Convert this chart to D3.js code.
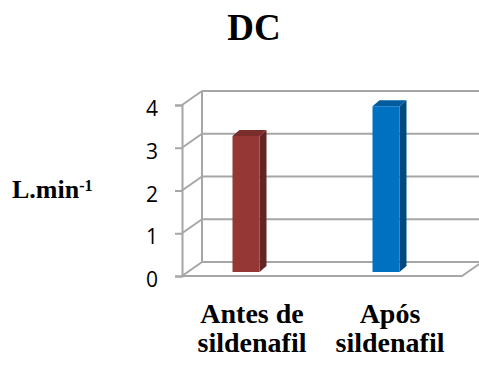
<!DOCTYPE html>
<html>
<head>
<meta charset="utf-8">
<script src="https://cdn.jsdelivr.net/npm/d3@7"></script>
<style>
  html, body { margin: 0; padding: 0; background: #fff; }
  svg { display: block; }
  .serif { font-family: "Liberation Serif", "Times New Roman", serif; font-weight: bold; }
  .tick text { font-family: "Open Sans", "DejaVu Sans", sans-serif; }
</style>
</head>
<body>
<svg id="chart" width="479" height="365"></svg>
<script>
// Chart data
const categories = [["Antes de", "sildenafil"], ["Após", "sildenafil"]];
const values = [3.2, 3.9];
const tickValues = [0, 1, 2, 3, 4];
const frontColors = ["#953735", "#0070c0"];
const sideColors = ["#632523", "#004a7f"];
const topColors = ["#7b2d2b", "#005c9f"];

const svg = d3.select("#chart");
const W = 479;

// 3D box geometry: front plane and back wall offset
const depthX = 20, depthY = -14;
const x = d3.scaleBand().domain(d3.range(categories.length)).range([182, 462]);
const yFront = d3.scaleLinear().domain([0, 4]).range([276, 105]);
const yBar = d3.scaleLinear().domain([0, 4]).range([272, 102]);

const grid = "#a6a6a6";
const g = svg.append("g");

// Back wall gridlines and diagonal connectors
tickValues.forEach(t => {
  const yf = yFront(t), yb = yf + depthY;
  g.append("line").attr("x1", 182 + depthX).attr("x2", W).attr("y1", yb).attr("y2", yb)
    .attr("stroke", grid).attr("stroke-width", 2);
  g.append("line").attr("x1", 182).attr("y1", yf).attr("x2", 182 + depthX).attr("y2", yb)
    .attr("stroke", grid).attr("stroke-width", 2);
});
// Back wall left edge
g.append("line").attr("x1", 182 + depthX).attr("x2", 182 + depthX)
  .attr("y1", yFront(0) + depthY).attr("y2", yFront(4) + depthY)
  .attr("stroke", grid).attr("stroke-width", 2);

// Floor front edge and right edge
g.append("path")
  .attr("d", `M182,${yFront(0)} L462,${yFront(0)} L${462 + depthX},${yFront(0) + depthY}`)
  .attr("fill", "none").attr("stroke", grid).attr("stroke-width", 2);

// Front axis line with ticks
const axis = d3.axisLeft(yFront).tickValues(tickValues).tickSize(7).tickPadding(17)
  .tickFormat(d3.format("d"));
const ax = svg.append("g").attr("transform", "translate(182,0)").call(axis);
ax.attr("font-family", null).attr("font-size", null);
ax.select(".domain").attr("stroke", grid).attr("stroke-width", 2);
ax.selectAll(".tick line").attr("stroke", grid).attr("stroke-width", 2);
ax.selectAll(".tick text").style("font-size", "21px").attr("fill", "#000").attr("dy", "0.5em");

// 3D bars
const bw = 27, bdx = 7, bdy = -6;
const bars = svg.append("g");
values.forEach((v, i) => {
  const cx = x(i) + x.bandwidth() / 2 - 6;
  const x0 = cx - bw / 2, x1 = cx + bw / 2;
  const y0 = yBar(0), yt = yBar(v);
  // side face
  bars.append("path")
    .attr("d", `M${x1},${yt} L${x1 + bdx},${yt + bdy} L${x1 + bdx},${y0 + bdy} L${x1},${y0} Z`)
    .attr("fill", sideColors[i]);
  // top face
  bars.append("path")
    .attr("d", `M${x0},${yt} L${x0 + bdx},${yt + bdy} L${x1 + bdx},${yt + bdy} L${x1},${yt} Z`)
    .attr("fill", topColors[i]);
  // front face
  bars.append("rect").attr("x", x0).attr("y", yt).attr("width", bw).attr("height", y0 - yt)
    .attr("fill", frontColors[i]);
});

// Category labels
const labelX = [252, 390];
categories.forEach((lines, i) => {
  const t = svg.append("text").attr("class", "serif").attr("text-anchor", "middle")
    .style("font-size", "28px").attr("fill", "#000");
  lines.forEach((s, k) => {
    t.append("tspan").attr("x", labelX[i]).attr("y", 323 + k * 29).text(s);
  });
});

// Title
svg.append("text").attr("class", "serif").attr("x", 254).attr("y", 40).attr("text-anchor", "middle")
  .style("font-size", "37px").text("DC");

// Y axis unit label
const yl = svg.append("text").attr("class", "serif").attr("x", 12).attr("y", 198)
  .style("font-size", "26px").attr("fill", "#000");
yl.append("tspan").text("L.min");
yl.append("tspan").style("font-size", "16px").attr("dy", -7).text("-1");
</script>
</body>
</html>
